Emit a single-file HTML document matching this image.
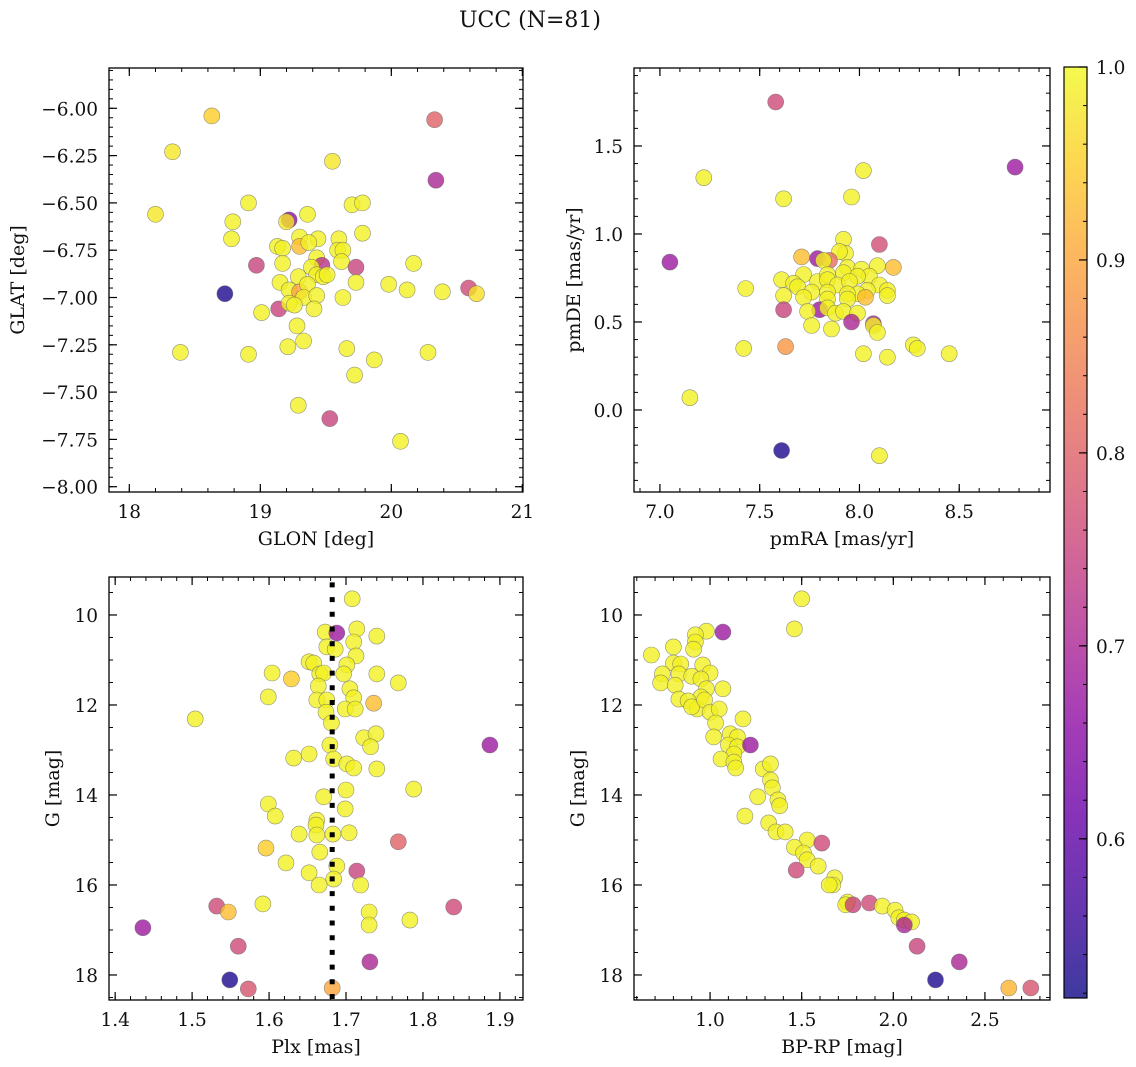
<!DOCTYPE html>
<html><head><meta charset="utf-8"><title>UCC (N=81)</title>
<style>
html,body{margin:0;padding:0;background:#fff;}
svg{display:block;font-family:"DejaVu Serif","Liberation Serif",serif;}
</style></head>
<body>
<svg id="fig" width="1136" height="1067" viewBox="0 0 1136 1067" xmlns="http://www.w3.org/2000/svg">
<text x="530" y="27" font-size="22" text-anchor="middle" fill="#111">UCC (N=81)</text>
</svg>
<script>
// ---------- data: top-left GLON/GLAT ----------
const tlX=[18.63,20.33,18.33,19.55,20.34,18.20,18.91,19.22,19.20,19.36,18.79,18.78,19.70,19.78,19.30,19.44,19.13,19.17,19.30,19.37,19.60,19.59,19.63,19.62,19.78,18.97,19.17,19.43,19.47,19.39,19.43,19.48,19.51,19.73,20.17,18.73,19.15,19.29,19.22,19.30,19.36,19.33,19.43,19.73,19.98,20.12,19.63,19.01,19.14,19.22,19.26,19.41,19.28,19.33,19.21,18.91,19.66,19.87,18.39,19.29,19.53,19.72,20.07,20.28,20.59,20.65,20.39];
const tlY=[-6.04,-6.06,-6.23,-6.28,-6.38,-6.56,-6.50,-6.59,-6.60,-6.56,-6.60,-6.69,-6.51,-6.50,-6.68,-6.69,-6.73,-6.74,-6.73,-6.71,-6.69,-6.75,-6.75,-6.81,-6.66,-6.83,-6.82,-6.79,-6.83,-6.84,-6.88,-6.89,-6.88,-6.84,-6.82,-6.98,-6.92,-6.89,-6.96,-6.97,-6.93,-7.00,-6.99,-6.92,-6.93,-6.96,-7.00,-7.08,-7.06,-7.03,-7.04,-7.06,-7.15,-7.23,-7.26,-7.30,-7.27,-7.33,-7.29,-7.57,-7.64,-7.41,-7.76,-7.29,-6.95,-6.98,-6.97];
const tlP=[0.95,0.80,0.98,0.98,0.70,0.98,0.99,0.66,0.98,0.99,0.99,0.99,0.99,0.99,0.99,0.99,0.99,0.99,0.93,0.99,0.99,0.99,0.99,0.99,0.99,0.75,0.99,0.99,0.72,0.99,0.99,0.99,0.99,0.75,0.99,0.53,0.99,0.99,0.99,0.90,0.99,0.99,0.99,0.99,0.99,0.99,0.99,0.99,0.75,0.99,0.99,0.99,0.99,0.99,0.99,0.99,0.99,0.99,0.99,0.99,0.75,0.99,0.99,0.99,0.76,0.97,0.99];
// ---------- data: top-right pmRA/pmDE ----------
const trX=[7.58,7.22,8.78,8.02,7.96,7.62,7.05,7.15,7.43,7.42,7.63,7.61,8.10,8.45,7.92,7.93,7.90,8.10,7.71,7.79,7.85,7.82,8.17,8.09,7.94,8.01,8.05,7.92,7.99,7.61,7.72,7.67,7.69,7.79,7.84,7.84,7.89,7.95,8.10,8.14,8.14,8.04,7.99,8.03,7.94,7.94,7.84,7.76,7.72,7.62,7.84,7.62,7.80,7.74,7.84,7.88,7.92,7.99,7.96,8.07,8.07,8.09,7.76,7.86,8.02,8.14,8.27,8.29];
const trY=[1.75,1.32,1.38,1.36,1.21,1.20,0.84,0.07,0.69,0.35,0.36,-0.23,-0.26,0.32,0.97,0.89,0.90,0.94,0.87,0.86,0.85,0.85,0.81,0.82,0.81,0.80,0.76,0.78,0.76,0.74,0.77,0.72,0.70,0.73,0.77,0.74,0.71,0.73,0.71,0.68,0.65,0.68,0.66,0.64,0.66,0.63,0.67,0.67,0.64,0.65,0.63,0.57,0.57,0.56,0.58,0.55,0.56,0.55,0.50,0.49,0.48,0.44,0.48,0.46,0.32,0.30,0.37,0.35];
const trP=[0.76,0.99,0.68,0.99,0.99,0.99,0.68,0.99,0.99,0.99,0.88,0.53,0.99,0.99,0.99,0.99,0.99,0.77,0.93,0.68,0.82,0.99,0.93,0.99,0.99,0.99,0.99,0.99,0.99,0.99,0.99,0.99,0.99,0.99,0.99,0.99,0.99,0.99,0.99,0.99,0.99,0.99,0.99,0.93,0.99,0.99,0.99,0.99,0.99,0.99,0.99,0.75,0.68,0.99,0.99,0.99,0.99,0.99,0.70,0.70,0.99,0.99,0.99,0.99,0.99,0.99,0.99,0.99];
// ---------- data: bottom-left Plx/G ----------
const blX=[1.708,1.673,1.688,1.714,1.740,1.710,1.675,1.686,1.713,1.652,1.658,1.701,1.604,1.629,1.666,1.671,1.697,1.740,1.768,1.664,1.705,1.599,1.662,1.675,1.710,1.736,1.674,1.699,1.712,1.681,1.723,1.739,1.732,1.679,1.632,1.652,1.684,1.701,1.710,1.740,1.788,1.700,1.671,1.599,1.608,1.699,1.662,1.661,1.639,1.662,1.683,1.704,1.768,1.596,1.666,1.622,1.688,1.714,1.652,1.684,1.665,1.719,1.504,1.887,1.840,1.783,1.730,1.730,1.731,1.592,1.436,1.532,1.547,1.560,1.549,1.573,1.682];
const blY=[9.64,10.38,10.40,10.31,10.47,10.60,10.71,10.76,10.91,11.04,11.07,11.11,11.29,11.42,11.31,11.29,11.31,11.31,11.51,11.58,11.64,11.82,11.89,11.89,11.84,11.96,12.16,12.09,12.09,12.40,12.73,12.64,12.93,12.89,13.18,13.09,13.20,13.31,13.40,13.42,13.87,13.89,14.04,14.20,14.47,14.31,14.56,14.67,14.87,14.89,14.87,14.84,15.04,15.18,15.27,15.51,15.58,15.69,15.73,15.87,16.00,16.00,12.31,12.89,16.49,16.78,16.60,16.89,17.71,16.42,16.95,16.47,16.60,17.36,18.11,18.31,18.29];
const blP=[0.99,0.99,0.68,0.99,0.99,0.99,0.99,0.99,0.99,0.99,0.99,0.99,0.99,0.95,0.99,0.99,0.99,0.99,0.99,0.99,0.99,0.99,0.99,0.99,0.99,0.93,0.99,0.99,0.99,0.99,0.99,0.99,0.99,0.99,0.99,0.99,0.99,0.99,0.99,0.99,0.99,0.99,0.99,0.99,0.99,0.99,0.99,0.99,0.99,0.99,0.99,0.99,0.80,0.95,0.99,0.99,0.99,0.75,0.99,0.99,0.99,0.99,0.99,0.68,0.76,0.99,0.99,0.99,0.70,0.99,0.68,0.76,0.93,0.76,0.53,0.78,0.90];
const plxMean=1.682;
// ---------- data: bottom-right BP-RP/G ----------
const brX=[1.50,1.46,1.07,0.98,0.92,0.92,0.91,0.80,0.68,0.80,0.84,0.96,1.00,0.74,0.83,0.90,0.95,0.73,0.81,0.98,1.07,0.95,0.83,0.88,0.93,0.90,0.97,1.00,1.05,1.03,1.18,1.02,1.11,1.15,1.10,1.15,1.22,1.13,1.06,1.13,1.14,1.29,1.33,1.33,1.34,1.37,1.38,1.26,1.19,1.32,1.36,1.41,1.53,1.61,1.46,1.51,1.53,1.59,1.47,1.68,1.67,1.65,1.75,1.74,1.78,1.87,1.94,2.01,2.03,2.06,2.10,2.06,2.13,2.36,2.23,2.63,2.75];
const brY=[9.64,10.31,10.38,10.36,10.44,10.60,10.76,10.71,10.89,11.07,11.09,11.11,11.29,11.31,11.31,11.36,11.42,11.51,11.56,11.64,11.64,11.82,11.87,11.91,12.09,12.04,11.89,12.16,12.09,12.40,12.31,12.71,12.64,12.71,12.89,12.93,12.89,13.09,13.20,13.27,13.40,13.42,13.31,13.67,13.84,14.11,14.24,14.04,14.47,14.62,14.82,14.82,15.00,15.07,15.16,15.29,15.44,15.58,15.67,15.84,16.00,16.00,16.38,16.44,16.44,16.40,16.47,16.56,16.73,16.78,16.82,16.89,17.36,17.71,18.11,18.29,18.29];
const brP=[0.99,0.99,0.68,0.99,0.99,0.99,0.99,0.99,0.99,0.99,0.99,0.99,0.99,0.99,0.99,0.99,0.99,0.99,0.99,0.99,0.99,0.99,0.99,0.99,0.99,0.99,0.99,0.99,0.99,0.99,0.99,0.99,0.99,0.99,0.99,0.99,0.68,0.99,0.99,0.99,0.99,0.99,0.99,0.99,0.99,0.99,0.99,0.99,0.99,0.99,0.99,0.99,0.99,0.76,0.99,0.99,0.99,0.99,0.76,0.99,0.99,0.99,0.99,0.99,0.75,0.76,0.99,0.99,0.99,0.99,0.99,0.70,0.75,0.70,0.53,0.92,0.78];
// ---------- tick labels ----------
const tlXTicks=[18,19,20,21];
const tlYTicks=[-6.00,-6.25,-6.50,-6.75,-7.00,-7.25,-7.50,-7.75,-8.00];
const trXTicks=[7.0,7.5,8.0,8.5];
const trYTicks=[0.0,0.5,1.0,1.5];
const blXTicks=[1.4,1.5,1.6,1.7,1.8,1.9];
const gTicks=[10,12,14,16,18];
const brXTicks=[1.0,1.5,2.0,2.5];
const cbTicks=[0.6,0.7,0.8,0.9,1.0];
const cbMin=0.5175, cbMax=1.0;

const NS="http://www.w3.org/2000/svg";
const svg=document.getElementById('fig');
function mk(tag,attrs,parent){const e=document.createElementNS(NS,tag);for(const k in attrs)e.setAttribute(k,attrs[k]);(parent||svg).appendChild(e);return e;}

const stops=[[0,[13,8,135]],[0.1,[65,4,157]],[0.2,[106,0,168]],[0.3,[143,13,164]],[0.4,[177,42,144]],[0.5,[204,71,120]],[0.6,[225,100,98]],[0.7,[242,132,75]],[0.8,[252,166,54]],[0.9,[252,206,37]],[1,[240,249,33]]];
function plasma(t){t=Math.max(0,Math.min(1,t));for(let i=1;i<stops.length;i++){if(t<=stops[i][0]){const a=stops[i-1],b=stops[i];const f=(t-a[0])/(b[0]-a[0]);const c=a[1].map((v,j)=>Math.round(v+(b[1][j]-v)*f));return `rgb(${c[0]},${c[1]},${c[2]})`;}}return 'rgb(240,249,33)';}
function pcol(p){return plasma((p-cbMin)/(cbMax-cbMin));}

function fmt(v,d){let s=v.toFixed(d);return s.replace('-','\u2212');}

function panel(cfg){
  const g=mk('g',{});
  
  
  const {L,R,T,B,xmin,xmax,ymin,ymax,invY}=cfg;
  const sx=v=>L+(v-xmin)/(xmax-xmin)*(R-L);
  const sy=v=>invY?T+(v-ymin)/(ymax-ymin)*(B-T):B-(v-ymin)/(ymax-ymin)*(B-T);
  const cid='clip-'+cfg.name;
  const cp=mk('clipPath',{id:cid},g);mk('rect',{x:L,y:T,width:R-L,height:B-T},cp);
  const pg=mk('g',{'clip-path':`url(#${cid})`},g);
  for(let i=0;i<cfg.xs.length;i++){
    const c=mk('circle',{cx:sx(cfg.xs[i]).toFixed(1),cy:sy(cfg.ys[i]).toFixed(1),r:8,fill:pcol(cfg.ps[i]),'fill-opacity':0.8,stroke:'#666','stroke-opacity':0.7,'stroke-width':0.6},pg);
    
    
  }
  if(cfg.vline!==undefined){
    const vx=sx(cfg.vline).toFixed(1);
    const ln=mk('path',{d:`M${vx} ${B-1} L${vx} ${T+1}`,fill:'none',stroke:'#000','stroke-width':5,'stroke-dasharray':'5 9.7'},g);
    
    
  }
  const fr=mk('rect',{x:L,y:T,width:R-L,height:B-T,fill:'none',stroke:'#000','stroke-width':1.3},g);
  
  
  const tk=(x1,y1,x2,y2,w)=>mk('line',{x1,y1,x2,y2,stroke:'#000','stroke-width':w},g);
  const eps=1e-9;
  for(let v=Math.ceil(xmin/cfg.xminor-eps)*cfg.xminor;v<=xmax+eps;v+=cfg.xminor){const x=sx(v);tk(x,B,x,B-4,1);tk(x,T,x,T+4,1);}
  for(let v=Math.ceil(ymin/cfg.yminor-eps)*cfg.yminor;v<=ymax+eps;v+=cfg.yminor){const y=sy(v);tk(L,y,L+4,y,1);tk(R,y,R-4,y,1);}
  cfg.xticks.forEach(v=>{const x=sx(v);tk(x,B,x,B-8,1.2);tk(x,T,x,T+8,1.2);
    const t=mk('text',{x:x,y:B+26,'font-size':18.5,'text-anchor':'middle',fill:'#111'},g);t.textContent=fmt(v,cfg.xdec);
    
    });
  cfg.yticks.forEach(v=>{const y=sy(v);tk(L,y,L+8,y,1.2);tk(R,y,R-8,y,1.2);
    const t=mk('text',{x:L-11,y:y+7,'font-size':18.5,'text-anchor':'end',fill:'#111'},g);t.textContent=fmt(v,cfg.ydec);
    
    });
  const xl=mk('text',{x:(L+R)/2,y:B+53,'font-size':19,'text-anchor':'middle',fill:'#111'},g);xl.textContent=cfg.xlabel;
  
  
  const yl=mk('text',{x:cfg.ylx,y:(T+B)/2,'font-size':19,'text-anchor':'middle',fill:'#111',transform:`rotate(-90 ${cfg.ylx} ${(T+B)/2})`},g);yl.textContent=cfg.ylabel;
  
  
}

panel({name:'glon-glat-panel',L:109,R:523,T:68,B:492,xmin:17.845,xmax:21.005,ymin:-8.028,ymax:-5.787,xs:tlX,ys:tlY,ps:tlP,xticks:tlXTicks,yticks:tlYTicks,xminor:0.2,yminor:0.05,xdec:0,ydec:2,xlabel:'GLON [deg]',ylabel:'GLAT [deg]',ylx:24});
panel({name:'proper-motion-panel',L:634,R:1050,T:68,B:492,xmin:6.870,xmax:8.955,ymin:-0.466,ymax:1.943,xs:trX,ys:trY,ps:trP,xticks:trXTicks,yticks:trYTicks,xminor:0.1,yminor:0.1,xdec:1,ydec:1,xlabel:'pmRA [mas/yr]',ylabel:'pmDE [mas/yr]',ylx:580});
panel({name:'parallax-panel',L:109,R:523,T:577,B:1000,xmin:1.392,xmax:1.930,ymin:9.156,ymax:18.556,invY:true,xs:blX,ys:blY,ps:blP,xticks:blXTicks,yticks:gTicks,xminor:0.02,yminor:0.5,xdec:1,ydec:0,xlabel:'Plx [mas]',ylabel:'G [mag]',ylx:59,vline:plxMean});
panel({name:'cmd-panel',L:634,R:1050,T:577,B:1000,xmin:0.585,xmax:2.855,ymin:9.156,ymax:18.556,invY:true,xs:brX,ys:brY,ps:brP,xticks:brXTicks,yticks:gTicks,xminor:0.1,yminor:0.5,xdec:1,ydec:0,xlabel:'BP-RP [mag]',ylabel:'G [mag]',ylx:584});

const cb=mk('g',{});


const CL=1064,CR=1087,CT=67,CB=998;
const defs=mk('defs',{},cb);
const lg=mk('linearGradient',{id:'cbgrad',x1:0,y1:1,x2:0,y2:0},defs);
for(let i=0;i<=20;i++){mk('stop',{offset:(i/20),'stop-color':plasma(i/20)},lg);}
mk('rect',{x:CL,y:CT,width:CR-CL,height:CB-CT,fill:'url(#cbgrad)','fill-opacity':0.8},cb);
mk('rect',{x:CL,y:CT,width:CR-CL,height:CB-CT,fill:'none',stroke:'#000','stroke-width':1.2},cb);
const cy=v=>CB-(v-cbMin)/(cbMax-cbMin)*(CB-CT);
for(let v=0.52;v<=1.0001;v+=0.02){mk('line',{x1:CR,x2:CR-4,y1:cy(v),y2:cy(v),stroke:'#000','stroke-width':1},cb);}
cbTicks.forEach(v=>{mk('line',{x1:CR,x2:CR-8,y1:cy(v),y2:cy(v),stroke:'#000','stroke-width':1.2},cb);
  const t=mk('text',{x:CR+9,y:cy(v)+7,'font-size':18.5,fill:'#111'},cb);t.textContent=v.toFixed(1);
  
  });
</script>
</body></html>
